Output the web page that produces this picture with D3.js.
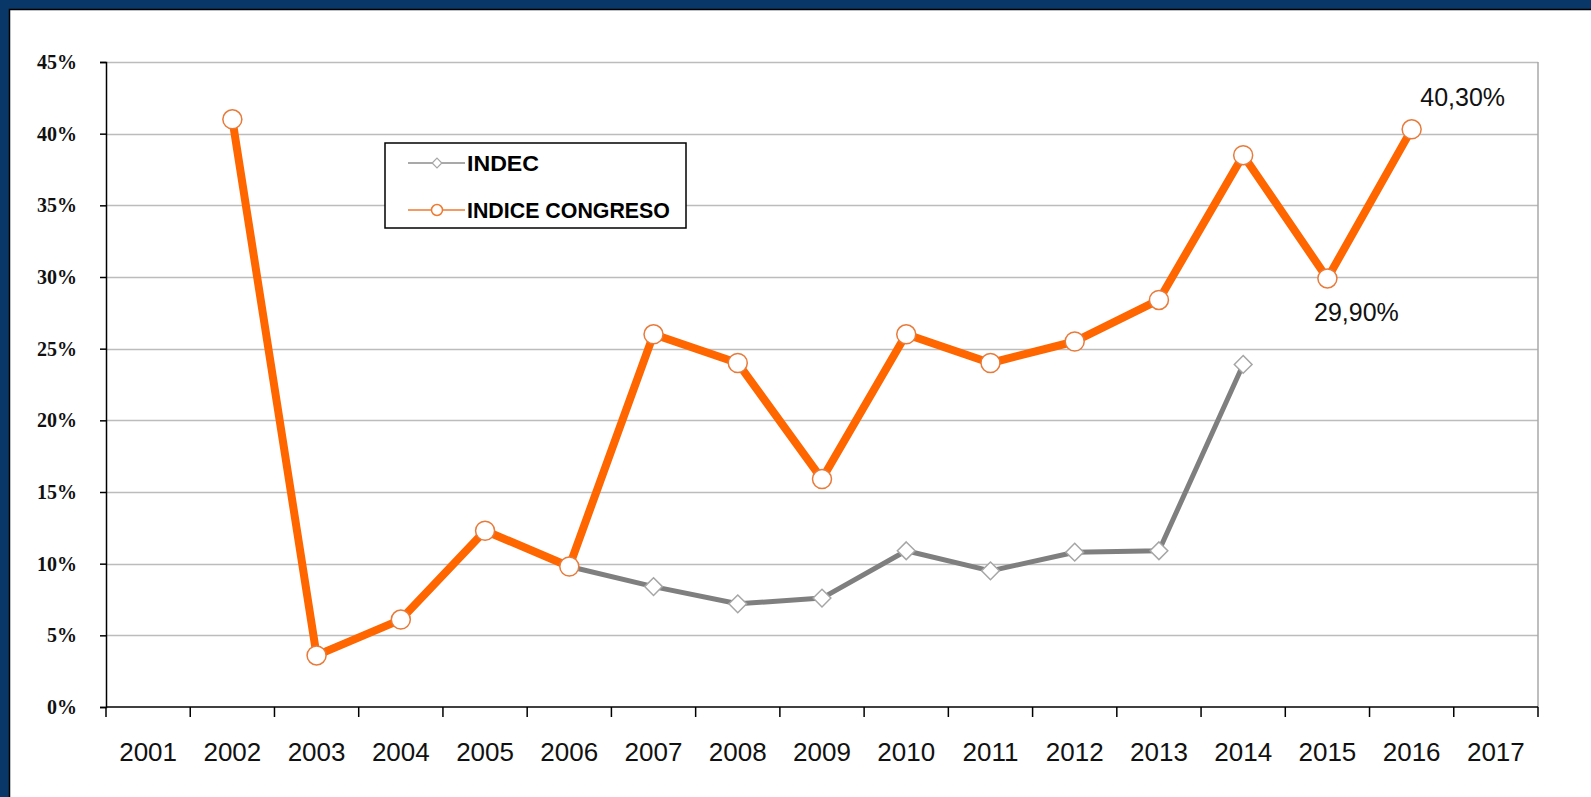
<!DOCTYPE html>
<html>
<head>
<meta charset="utf-8">
<script src="https://cdn.jsdelivr.net/npm/d3@7"></script>
<style>
  html, body { margin: 0; padding: 0; background: #ffffff; overflow: hidden; }
  svg { display: block; }
</style>
</head>
<body>
<svg id="chart" width="1591" height="797"></svg>
<script>
// ---- data ----
const years = ["2001","2002","2003","2004","2005","2006","2007","2008","2009","2010","2011","2012","2013","2014","2015","2016","2017"];
const indec = [null, 41.0, 3.7, 6.1, 12.3, 9.8, 8.4, 7.2, 7.6, 10.9, 9.5, 10.8, 10.9, 23.9, null, null, null];
const congreso = [null, 41.0, 3.6, 6.1, 12.3, 9.8, 26.0, 24.0, 15.9, 26.0, 24.0, 25.5, 28.4, 38.5, 29.9, 40.3, null];
const yTicks = [0, 5, 10, 15, 20, 25, 30, 35, 40, 45];
const seriesNames = ["INDEC", "INDICE CONGRESO"];
const noteYears = ["2015", "2016"];
const noteTexts = ["29,90%", "40,30%"];

// ---- layout ----
const W = 1591, H = 797;
const plot = { left: 106, right: 1538, top: 62, bottom: 707 };
const svg = d3.select("#chart");

// frame
svg.append("rect").attr("x", 0).attr("y", 0).attr("width", W).attr("height", H).attr("fill", "#083768");
svg.append("rect").attr("x", 9.5).attr("y", 9.5).attr("width", W + 20).attr("height", H + 20)
  .attr("fill", "#ffffff").attr("stroke", "#000000").attr("stroke-width", 1.5);

const x = d3.scaleBand().domain(years).range([plot.left, plot.right]).padding(0);
const y = d3.scaleLinear().domain([0, 45]).range([plot.bottom, plot.top]);
const cx = d => x(d) + x.bandwidth() / 2;

// gridlines
svg.append("g").selectAll("line").data(yTicks.filter(t => t > 0)).join("line")
  .attr("x1", plot.left).attr("x2", plot.right)
  .attr("y1", d => Math.round(y(d)) + 0.5).attr("y2", d => Math.round(y(d)) + 0.5)
  .attr("stroke", "#bcbcbc").attr("stroke-width", 1.5);
// right border
svg.append("line").attr("x1", plot.right).attr("x2", plot.right)
  .attr("y1", plot.top).attr("y2", plot.bottom).attr("stroke", "#a8a8a8").attr("stroke-width", 1.5);

// y axis
const yAxis = d3.axisLeft(y).tickValues(yTicks).tickSize(6).tickPadding(23).tickFormat(d => d + "%");
const gy = svg.append("g").attr("transform", `translate(${plot.left},0)`).call(yAxis);
gy.select(".domain").attr("stroke", "#000").attr("stroke-width", 1.5);
gy.selectAll(".tick line").attr("stroke", "#000").attr("stroke-width", 1.5);
gy.selectAll(".tick text").attr("font-family", "'Liberation Serif','Times New Roman',serif")
  .attr("font-weight", "bold").attr("font-size", 20).attr("fill", "#111");

// x axis with ticks at band boundaries
const gx = svg.append("g").attr("transform", `translate(0,${plot.bottom})`);
gx.append("line").attr("x1", plot.left).attr("x2", plot.right).attr("y1", 0).attr("y2", 0)
  .attr("stroke", "#000").attr("stroke-width", 1.5);
const bounds = years.map(d => x(d)).concat([plot.right]);
gx.selectAll("line.tk").data(bounds).join("line").attr("class", "tk")
  .attr("x1", d => d).attr("x2", d => d).attr("y1", 0).attr("y2", 10)
  .attr("stroke", "#000").attr("stroke-width", 1.5);
gx.selectAll("text").data(years).join("text")
  .attr("x", d => cx(d)).attr("y", 54).attr("text-anchor", "middle")
  .attr("font-family", "'Liberation Sans',Arial,sans-serif").attr("font-size", 26).attr("fill", "#111")
  .text(d => d);

// series
const line = d3.line().defined(d => d.v !== null).x(d => cx(d.k)).y(d => y(d.v));
const indecPts = years.map((k, i) => ({ k, v: indec[i] }));
const congPts = years.map((k, i) => ({ k, v: congreso[i] }));

svg.append("path").datum(indecPts).attr("d", line).attr("fill", "none")
  .attr("stroke", "#7f7f7f").attr("stroke-width", 5).attr("stroke-linejoin", "round");
const diamond = d3.symbol().type(d3.symbolDiamond2).size(200);
svg.append("g").selectAll("path").data(indecPts.filter(d => d.v !== null)).join("path")
  .attr("d", diamond).attr("transform", d => `translate(${cx(d.k)},${y(d.v)})`)
  .attr("fill", "#ffffff").attr("stroke", "#a6a6a6").attr("stroke-width", 1.5);

svg.append("path").datum(congPts).attr("d", line).attr("fill", "none")
  .attr("stroke", "#ff6600").attr("stroke-width", 8).attr("stroke-linejoin", "round");
svg.append("g").selectAll("circle").data(congPts.filter(d => d.v !== null)).join("circle")
  .attr("cx", d => cx(d.k)).attr("cy", d => y(d.v)).attr("r", 9.5)
  .attr("fill", "#ffffff").attr("stroke", "#e87a3a").attr("stroke-width", 1.5);

// annotations
const noteOffsets = [{ dx: 29, dy: 43 }, { dx: 51, dy: -23 }];
svg.append("g").selectAll("text").data(noteYears).join("text")
  .attr("x", (d, i) => cx(d) + noteOffsets[i].dx)
  .attr("y", (d, i) => y(congreso[years.indexOf(d)]) + noteOffsets[i].dy)
  .attr("text-anchor", "middle")
  .attr("font-family", "'Liberation Sans',Arial,sans-serif").attr("font-size", 25).attr("fill", "#111")
  .text((d, i) => noteTexts[i]);

// legend
const lg = svg.append("g");
lg.append("rect").attr("x", 385).attr("y", 143).attr("width", 301).attr("height", 85)
  .attr("fill", "#fff").attr("stroke", "#000").attr("stroke-width", 1.5);
const rows = [163, 210];
const legColors = ["#8c8c8c", "#f07a30"];
seriesNames.forEach((name, i) => {
  const ry = rows[i];
  lg.append("line").attr("x1", 408).attr("x2", 465).attr("y1", ry).attr("y2", ry)
    .attr("stroke", legColors[i]).attr("stroke-width", 1.5);
  if (i === 0) {
    lg.append("path").attr("d", d3.symbol().type(d3.symbolDiamond2).size(60)())
      .attr("transform", `translate(437,${ry})`).attr("fill", "#fff").attr("stroke", "#a6a6a6").attr("stroke-width", 1.2);
  } else {
    lg.append("circle").attr("cx", 437).attr("cy", ry).attr("r", 5.5)
      .attr("fill", "#fff").attr("stroke", "#f07a30").attr("stroke-width", 1.5);
  }
  const t = lg.append("text").attr("x", 467).attr("y", ry + 8)
    .attr("font-family", "'Liberation Sans Narrow','Arial Narrow','Liberation Sans',Arial,sans-serif")
    .attr("font-weight", "bold").attr("font-size", 22).attr("fill", "#000").text(name);
  t.attr("textLength", i === 0 ? 72 : 203).attr("lengthAdjust", "spacingAndGlyphs");
});
</script>
</body>
</html>
